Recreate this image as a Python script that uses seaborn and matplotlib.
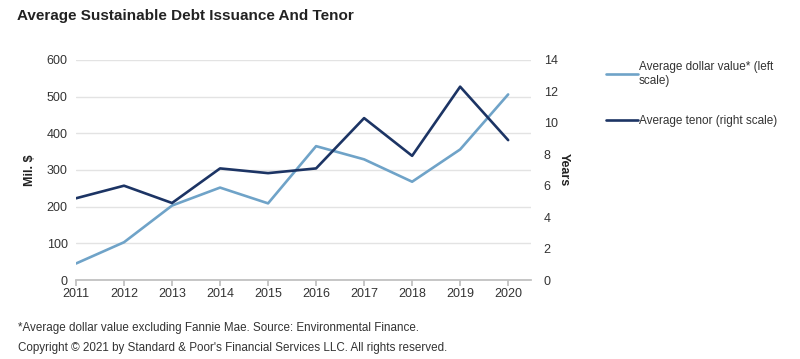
"""
Average sustainable debt issuance and tenor, 2011-2020 (dual axis line chart).
"""

import matplotlib.pyplot as plt
import seaborn as sns
import pandas as pd

years = [2011, 2012, 2013, 2014, 2015, 2016, 2017, 2018, 2019, 2020]
avg_dollar_value = [45, 103, 203, 252, 209, 365, 329, 268, 356, 506]
avg_tenor = [5.2, 6.0, 4.9, 7.1, 6.8, 7.1, 10.3, 7.9, 12.3, 8.9]

label_dollar = 'Average dollar value* (left\nscale)'
label_tenor = 'Average tenor (right scale)'

light_blue = '#6fa3c8'
navy = '#1c3464'

sns.set_theme(style='white')
plt.rcParams['font.family'] = ['Liberation Sans', 'DejaVu Sans']

df = pd.DataFrame({'year': years, 'dollar': avg_dollar_value, 'tenor': avg_tenor})

fig = plt.figure(figsize=(8, 3.59), dpi=100)
ax = fig.add_axes([0.095, 0.22, 0.569, 0.613])
ax2 = ax.twinx()

sns.lineplot(data=df, x='year', y='dollar', ax=ax, color=light_blue, lw=1.9, label=label_dollar, legend=False)
sns.lineplot(data=df, x='year', y='tenor', ax=ax2, color=navy, lw=1.9, label=label_tenor, legend=False)

ax.set_xlim(2011, 2020.48)
ax.set_ylim(0, 600)
ax2.set_ylim(0, 14)
ax.set_xticks(years)
ax.set_yticks(range(0, 601, 100))
ax2.set_yticks(range(0, 15, 2))
ax.yaxis.grid(True, color='#e3e3e3', lw=1)
ax.set_axisbelow(True)

for a in (ax, ax2):
    for s in a.spines.values():
        s.set_visible(False)
ax.spines['bottom'].set_visible(True)
ax.spines['bottom'].set_color('#bfbfbf')
ax.tick_params(axis='x', bottom=True, length=4, color='#bfbfbf', labelsize=9, labelcolor='#333333', pad=2)
ax.tick_params(axis='y', left=False, length=0, labelsize=9, labelcolor='#333333', pad=6)
ax2.tick_params(axis='y', right=False, length=0, labelsize=9, labelcolor='#333333', pad=9)

ax.set_xlabel('')
ax.set_ylabel('Mil. $', fontsize=9, fontweight='bold', color='#222222', labelpad=8)
ax2.set_ylabel('Years', fontsize=9, fontweight='bold', color='#222222', rotation=270, labelpad=9)

handles = ax.get_lines()[:1] + ax2.get_lines()[:1]
fig.legend(handles, [label_dollar, label_tenor], loc='upper left', bbox_to_anchor=(0.758, 0.83),
           frameon=False, fontsize=8.5, labelspacing=2.4, handlelength=2.7, handletextpad=0.05,
           borderpad=0, borderaxespad=0, labelcolor='#333333')

fig.text(0.021, 0.945, 'Average Sustainable Debt Issuance And Tenor', fontsize=11, fontweight='bold', color='#222222')
fig.text(0.022, 0.078, '*Average dollar value excluding Fannie Mae. Source: Environmental Finance.', fontsize=8.4, color='#333333')
fig.text(0.022, 0.022, "Copyright \u00a9 2021 by Standard & Poor's Financial Services LLC. All rights reserved.", fontsize=8.4, color='#333333')

fig.savefig('out.png', dpi=100)
plt.close(fig)
